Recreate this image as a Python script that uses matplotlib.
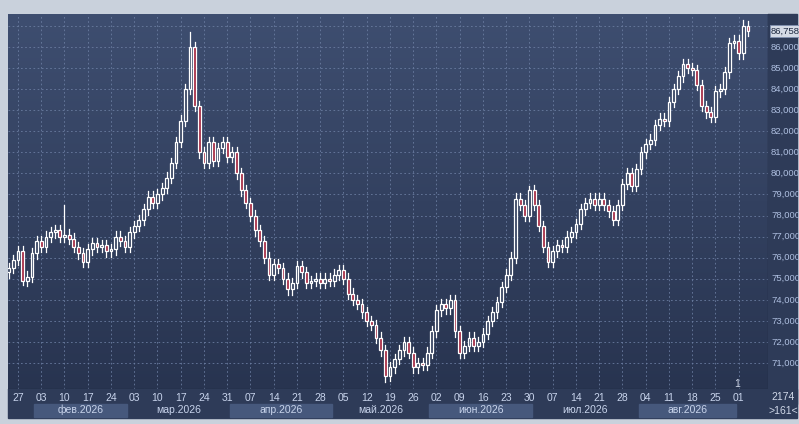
import numpy as np
import pandas as pd
import matplotlib.pyplot as plt
from matplotlib.patches import Rectangle

plt.rcParams['font.family'] = ['Liberation Sans', 'DejaVu Sans']

# daily closes (thousands), business days from 23 Jan 2026
closes = [75.5, 75.9, 76.3, 74.9, 75.1, 76.2, 76.8, 76.5, 77.0, 77.2,
          77.3, 77.0, 77.1, 76.9, 76.5, 76.2, 75.8, 76.4, 76.7, 76.5,
          76.6, 76.3, 76.4, 77.0, 76.8, 76.5, 77.2, 77.5, 77.8, 78.3,
          78.9, 78.6, 79.0, 79.3, 79.8, 80.5, 81.5, 82.5, 84.0, 86.0,
          83.2, 81.0, 80.5, 81.5, 80.6, 81.2, 81.5, 80.8, 81.0, 80.0,
          79.2, 78.6, 78.0, 77.3, 76.8, 76.0, 75.2, 75.7, 75.5, 75.0,
          74.5, 74.8, 75.6, 75.3, 74.8, 74.9, 75.0, 74.8, 75.0, 74.9,
          75.2, 75.4, 75.0, 74.3, 74.0, 73.8, 73.4, 73.0, 72.8, 72.2,
          71.6, 70.4, 70.8, 71.2, 71.6, 72.0, 71.5, 70.8, 71.0, 70.9,
          71.5, 72.5, 73.5, 73.8, 73.6, 74.0, 72.5, 71.5, 71.8, 72.2,
          71.8, 72.0, 72.4, 73.0, 73.4, 73.9, 74.6, 75.2, 76.0, 78.8,
          78.5, 78.0, 79.2, 78.5, 77.5, 76.5, 75.8, 76.3, 76.6, 76.5,
          77.0, 77.2, 77.6, 78.3, 78.6, 78.8, 78.5, 78.8, 78.5, 78.2,
          77.8, 78.5, 79.5, 80.0, 79.4, 80.2, 81.0, 81.4, 81.6, 82.3,
          82.6, 82.5, 83.4, 84.0, 84.6, 85.2, 85.0, 84.9, 84.2, 83.2,
          82.9, 82.7, 83.9, 84.0, 84.8, 86.2, 86.3, 85.7, 87.0, 86.758]
first_open = 75.3
wick = 0.25
# notable extremes: index -> (high, low)
extremes = {3: (None, 74.7), 12: (78.5, None), 39: (86.7, None),
            81: (None, 70.1), 112: (79.4, None), 158: (87.3, None)}

dates = pd.bdate_range("2026-01-23", periods=len(closes))
price_ticks = list(range(71, 88))
months = [("фев.2026", "2026-02-02", "2026-02-28", True),
          ("мар.2026", "2026-03-01", "2026-03-31", False),
          ("апр.2026", "2026-04-01", "2026-04-30", True),
          ("май.2026", "2026-05-01", "2026-05-31", False),
          ("июн.2026", "2026-06-01", "2026-06-30", True),
          ("июл.2026", "2026-07-01", "2026-07-31", False),
          ("авг.2026", "2026-08-01", "2026-08-31", True)]

W, H = 799, 424
fig = plt.figure(figsize=(W / 100, H / 100), dpi=100)
fig.patch.set_facecolor("#c9d1dc")
L, R, T, B = 8, 768, 14, 389
ax = fig.add_axes([L / W, 1 - B / H, (R - L) / W, (B - T) / H])

# gradient background
grad = np.linspace(0, 1, 256).reshape(-1, 1)
c_top = np.array([62, 78, 112]) / 255
c_bot = np.array([40, 52, 80]) / 255
img = c_top + (c_bot - c_top) * grad[..., None]
ax.imshow(img, extent=[-0.15, 163.3, 69.768, 87.566], aspect="auto", zorder=0)
ax.set_xlim(-0.15, 163.3)
ax.set_ylim(69.768, 87.566)

for p in price_ticks:
    ax.axhline(p, color="#6a7ca0", lw=0.6, ls=(0, (2, 3)), zorder=1)
tues = [i for i, d in enumerate(dates) if d.weekday() == 1]
for i in tues:
    ax.axvline(i, color="#6a7ca0", lw=0.6, ls=(0, (2, 3)), zorder=1)

opens = [first_open] + closes[:-1]
for i, (o, c) in enumerate(zip(opens, closes)):
    hi = max(o, c) + wick
    lo = min(o, c) - wick
    if i in extremes:
        h2, l2 = extremes[i]
        hi = h2 if h2 else hi
        lo = l2 if l2 else lo
    ax.plot([i, i], [lo, hi], color="white", lw=0.9, zorder=2)
    face = "#a52a43" if c < o else "#34425f"
    bh = max(abs(c - o), 0.05)
    ax.add_patch(Rectangle((i - 0.3, min(o, c)), 0.6, bh, facecolor=face,
                           edgecolor="white", lw=0.9, zorder=3))

ax.set_xticks([])
ax.set_yticks([])
for s in ax.spines.values():
    s.set_visible(False)
ax.spines["right"].set_visible(True)
ax.spines["right"].set_color("black")
ax.spines["bottom"].set_visible(True)
ax.spines["bottom"].set_color("black")

# right axis panel & bottom panel
fig.patches.append(Rectangle((R / W, 1 - 404 / H), (W - 2 - R) / W, (404 - T) / H,
                             transform=fig.transFigure, color="#2e3b58", zorder=0))
fig.patches.append(Rectangle((L / W, 1 - 418 / H), (R - L) / W, (418 - B) / H,
                             transform=fig.transFigure, color="#2e3b58", zorder=0))
fig.patches.append(Rectangle((R / W, 1 - 418 / H), (W - 2 - R) / W, (418 - 389) / H,
                             transform=fig.transFigure, color="#2e3b58", zorder=0))

for p in price_ticks:
    yp = ax.transData.transform((0, p))[1] / H
    if p == 87:
        continue
    fig.text(771 / W, yp, f"{p},000", color="#aebfe0", fontsize=6.8,
             va="center", ha="left")
yl = ax.transData.transform((0, closes[-1]))[1] / H
fig.text(771 / W, yl, f"{closes[-1] * 1000:,.0f}", color="#1d2840", fontsize=6.8,
         va="center", ha="left",
         bbox=dict(boxstyle="square,pad=0.12", fc="#d4dae6", ec="#8090b0", lw=0.6))

to_fx = lambda xv: ax.transData.transform((xv, 0))[0] / W
for i in tues:
    fig.text(to_fx(i), 1 - 398 / H, dates[i].strftime("%d"), color="#c8d4ec",
             fontsize=7.5, ha="center", va="center")

for name, a, b, band in months:
    ia = np.searchsorted(dates, pd.Timestamp(a))
    ib = np.searchsorted(dates, pd.Timestamp(b), side="right") - 1
    x0, x1 = to_fx(ia - 0.5), to_fx(ib + 0.5)
    if band:
        fig.patches.append(Rectangle((x0, 1 - 417 / H), x1 - x0, 13 / H,
                                     transform=fig.transFigure, color="#46587c", zorder=1))
    fig.text((x0 + x1) / 2, 1 - 410 / H, name, color="#c8d4ec", fontsize=7.5,
             ha="center", va="center")

fig.text(737 / W, 1 - 384 / H, "1", color="#d0d8e8", fontsize=7.5, ha="center", va="center")
fig.text(783 / W, 1 - 397 / H, "2174", color="#d0d8e8", fontsize=7.5, ha="center", va="center")
fig.text(783 / W, 1 - 411 / H, ">161<", color="#d0d8e8", fontsize=7.5, ha="center", va="center")

fig.savefig("out.png", dpi=100, facecolor=fig.get_facecolor())
